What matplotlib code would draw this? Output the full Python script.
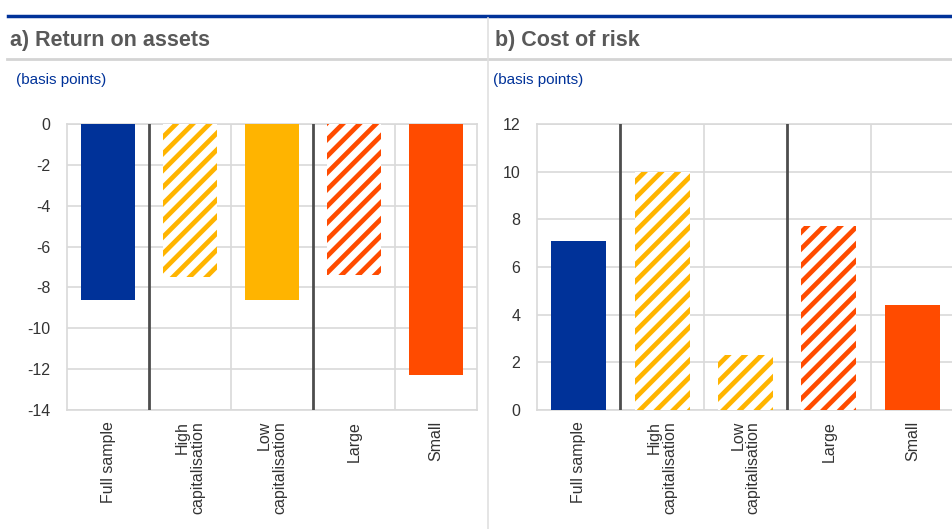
"""Return on assets and cost of risk by bank group, two panels."""

import matplotlib
matplotlib.use("Agg")
from matplotlib import pyplot as plt

# data
categories = ["Full sample", "High\ncapitalisation", "Low\ncapitalisation", "Large", "Small"]
roa_values = [-8.6, -7.5, -8.6, -7.4, -12.3]
cor_values = [7.1, 10.0, 2.3, 7.7, 4.4]
bar_colors = ["#003299", "#FFB400", "#FFB400", "#FF4B00", "#FF4B00"]
roa_hatched = [False, True, False, True, False]
cor_hatched = [False, True, True, True, False]
roa_ticks = [0, -2, -4, -6, -8, -10, -12, -14]
cor_ticks = [0, 2, 4, 6, 8, 10, 12]

plt.rcParams["font.family"] = ["Liberation Sans", "DejaVu Sans"]
plt.rcParams["hatch.linewidth"] = 3.4

W, H = 952, 529
fig = plt.figure(figsize=(W / 100, H / 100), dpi=100)


def px_axes(x0, y0, x1, y1):
    # pixel box (top-left origin) -> figure axes
    return fig.add_axes([x0 / W, 1 - y1 / H, (x1 - x0) / W, (y1 - y0) / H])


def draw_panel(ax, values, hatched, ticks, ylim):
    for i, (v, c, h) in enumerate(zip(values, bar_colors, hatched)):
        if h:
            ax.bar(i, v, width=0.66, color="white", edgecolor=c, hatch="//", linewidth=0, zorder=3)
        else:
            ax.bar(i, v, width=0.66, color=c, linewidth=0, zorder=3)
    ax.set_xlim(-0.5, 4.5)
    ax.set_ylim(*ylim)
    ax.set_yticks(ticks)
    ax.set_yticklabels([str(t) for t in ticks])
    ax.yaxis.grid(True, color="#d9d9d9", linewidth=1.2, zorder=0)
    for x in [1.5, 3.5]:
        ax.axvline(x, color="#d9d9d9", linewidth=1.2, zorder=1)
    for x in [0.5, 2.5]:
        ax.axvline(x, color="#4d4d4d", linewidth=2, zorder=4)
    for s in ax.spines.values():
        s.set_color("#d9d9d9")
        s.set_linewidth(1.2)
    ax.set_xticks(range(len(categories)))
    ax.set_xticklabels(categories, rotation=90, ha="center", va="top", ma="right", linespacing=1.0)
    ax.tick_params(axis="both", length=0, labelsize=11.5, labelcolor="#333333")
    ax.tick_params(axis="y", pad=12)
    ax.tick_params(axis="x", pad=8)


ax1 = px_axes(67, 124, 477, 410)
draw_panel(ax1, roa_values, roa_hatched, roa_ticks, (-14, 0))

ax2 = px_axes(537, 124, 954, 410)
draw_panel(ax2, cor_values, cor_hatched, cor_ticks, (0, 12))

# header lines and panel titles
fig.add_artist(plt.Line2D([8 / W, 1], [1 - 16 / H, 1 - 16 / H], color="#003299", linewidth=2.5))
fig.add_artist(plt.Line2D([7 / W, 1], [1 - 59 / H, 1 - 59 / H], color="#d4d4d4", linewidth=2))
fig.add_artist(plt.Line2D([488 / W, 488 / W], [0, 1 - 18 / H], color="#e0e0e0", linewidth=1.2))

fig.text(10 / W, 1 - 40 / H, "a) Return on assets", fontsize=15.5, fontweight="bold",
         color="#595959", va="center")
fig.text(495 / W, 1 - 40 / H, "b) Cost of risk", fontsize=15.5, fontweight="bold",
         color="#595959", va="center")
fig.text(16 / W, 1 - 80 / H, "(basis points)", fontsize=11, color="#003299", va="center")
fig.text(493 / W, 1 - 80 / H, "(basis points)", fontsize=11, color="#003299", va="center")

fig.savefig("out.png", dpi=100)
